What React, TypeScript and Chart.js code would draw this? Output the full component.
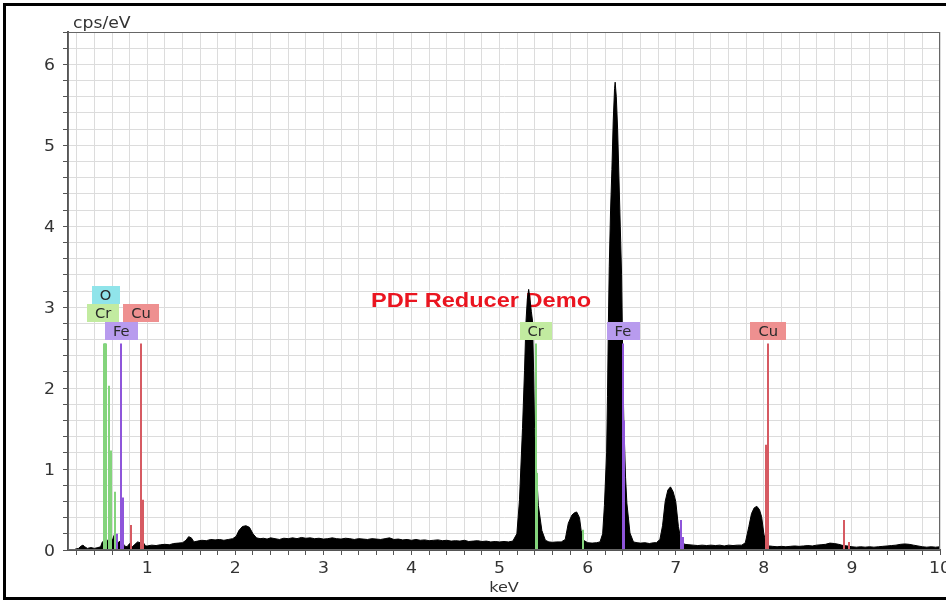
import { useEffect, useRef } from 'react';
import { Chart, registerables } from 'chart.js';

Chart.register(...registerables);

// ---- EDS spectrum trace, [energy keV, intensity cps/eV], by region ----
const lowEnergyTrace: [number, number][] = [
  [0.18, 0.01], [0.22, 0.02], [0.25, 0.05], [0.27, 0.06], [0.29, 0.04], [0.32, 0.02],
  [0.36, 0.03], [0.40, 0.02], [0.44, 0.03], [0.47, 0.04], [0.49, 0.1], [0.52, 0.12],
  [0.55, 0.12], [0.58, 0.1], [0.61, 0.14], [0.63, 0.2], [0.65, 0.08], [0.68, 0.1],
  [0.70, 0.12], [0.72, 0.1], [0.74, 0.05], [0.77, 0.04], [0.80, 0.08], [0.83, 0.04],
  [0.86, 0.07], [0.89, 0.1], [0.92, 0.09], [0.95, 0.1], [0.98, 0.05],
];

const continuumTrace: [number, number][] = [
  [1.0, 0.05], [1.05, 0.06], [1.1, 0.055], [1.15, 0.065], [1.2, 0.07], [1.25, 0.065],
  [1.3, 0.08], [1.35, 0.085], [1.4, 0.09], [1.44, 0.12], [1.47, 0.165], [1.5, 0.15],
  [1.53, 0.1], [1.57, 0.11], [1.62, 0.12], [1.67, 0.115], [1.72, 0.13], [1.77, 0.125],
  [1.82, 0.13], [1.87, 0.12], [1.92, 0.13], [1.97, 0.14], [2.01, 0.17], [2.04, 0.24],
  [2.08, 0.29], [2.12, 0.3], [2.16, 0.28], [2.2, 0.2], [2.24, 0.15], [2.28, 0.14],
  [2.32, 0.145], [2.36, 0.135], [2.4, 0.15], [2.45, 0.14], [2.5, 0.13], [2.55, 0.145],
  [2.6, 0.14], [2.65, 0.15], [2.7, 0.14], [2.75, 0.155], [2.8, 0.145], [2.85, 0.15],
  [2.9, 0.14], [2.95, 0.145], [3.0, 0.135], [3.05, 0.14], [3.1, 0.15], [3.15, 0.14],
  [3.2, 0.135], [3.25, 0.145], [3.3, 0.14], [3.35, 0.13], [3.4, 0.14], [3.45, 0.135],
  [3.5, 0.13], [3.55, 0.14], [3.6, 0.135], [3.65, 0.13], [3.7, 0.14], [3.75, 0.15],
  [3.8, 0.13], [3.85, 0.135], [3.9, 0.125], [3.95, 0.13], [4.0, 0.12], [4.05, 0.13],
  [4.1, 0.12], [4.15, 0.125], [4.2, 0.115], [4.25, 0.12], [4.3, 0.125], [4.35, 0.115],
  [4.4, 0.12], [4.45, 0.11], [4.5, 0.115], [4.55, 0.11], [4.6, 0.12], [4.65, 0.105],
  [4.7, 0.11], [4.75, 0.115], [4.8, 0.105], [4.85, 0.11], [4.9, 0.1], [4.95, 0.105],
  [5.0, 0.1], [5.05, 0.105], [5.1, 0.1],
];

const crKalphaTrace: [number, number][] = [
  [5.15, 0.11], [5.196, 0.2], [5.226, 0.62], [5.26, 1.5], [5.283, 2.22], [5.3, 2.83],
  [5.315, 3.1], [5.33, 3.22], [5.345, 3.1], [5.36, 2.95], [5.374, 2.83], [5.386, 2.22],
  [5.397, 1.5], [5.42, 0.96], [5.44, 0.55], [5.48, 0.24], [5.52, 0.12],
  [5.56, 0.1], [5.6, 0.095], [5.65, 0.1], [5.7, 0.1],
];

const crKbetaTrace: [number, number][] = [
  [5.745, 0.13], [5.78, 0.33], [5.82, 0.43], [5.85, 0.46], [5.875, 0.47], [5.907, 0.4],
  [5.926, 0.24], [5.953, 0.12], [6.0, 0.09], [6.05, 0.085], [6.1, 0.09],
];

const feKalphaTrace: [number, number][] = [
  [6.14, 0.1], [6.17, 0.2], [6.19, 0.55], [6.215, 1.2], [6.225, 1.9], [6.235, 2.8],
  [6.245, 3.5], [6.26, 4.2], [6.275, 4.7], [6.29, 5.3], [6.305, 5.7], [6.312, 5.78],
  [6.325, 5.6], [6.34, 5.2], [6.355, 4.6], [6.37, 4.0], [6.385, 3.4], [6.4, 2.2],
  [6.41, 1.6], [6.43, 0.9], [6.445, 0.58], [6.48, 0.21], [6.52, 0.1],
  [6.56, 0.09], [6.6, 0.085], [6.65, 0.09], [6.7, 0.08], [6.75, 0.09],
];

const feKbetaTrace: [number, number][] = [
  [6.78, 0.09], [6.82, 0.13], [6.85, 0.3], [6.88, 0.6], [6.91, 0.74], [6.94, 0.78],
  [6.97, 0.72], [7.0, 0.6], [7.03, 0.29], [7.06, 0.12], [7.1, 0.07],
  [7.15, 0.065], [7.2, 0.06], [7.25, 0.055], [7.3, 0.06], [7.35, 0.055], [7.4, 0.06],
  [7.45, 0.055], [7.5, 0.06], [7.55, 0.05], [7.6, 0.06], [7.65, 0.055], [7.7, 0.06],
];

const cuKalphaTrace: [number, number][] = [
  [7.75, 0.06], [7.79, 0.09], [7.83, 0.29], [7.86, 0.45], [7.89, 0.52], [7.92, 0.54],
  [7.95, 0.5], [7.975, 0.41], [8.0, 0.2], [8.03, 0.06],
];

const highEnergyTrace: [number, number][] = [
  [8.06, 0.05], [8.1, 0.045], [8.15, 0.04], [8.2, 0.045], [8.25, 0.04], [8.3, 0.045],
  [8.35, 0.05], [8.4, 0.045], [8.45, 0.05], [8.5, 0.055], [8.55, 0.05], [8.6, 0.06],
  [8.65, 0.065], [8.7, 0.07], [8.75, 0.085], [8.8, 0.08], [8.85, 0.07], [8.9, 0.055],
  [8.95, 0.05], [9.0, 0.04], [9.05, 0.035], [9.1, 0.04], [9.15, 0.035], [9.2, 0.04],
  [9.25, 0.035], [9.3, 0.04], [9.35, 0.045], [9.4, 0.05], [9.45, 0.055], [9.5, 0.06],
  [9.55, 0.07], [9.6, 0.075], [9.65, 0.07], [9.7, 0.06], [9.75, 0.05], [9.8, 0.04],
  [9.85, 0.035], [9.9, 0.04], [9.95, 0.035], [10.0, 0.04],
];

// ---- Characteristic line markers, [energy keV, marker height cps/eV] ----
const oMarkers: [number, number][] = [[0.525, 2.55]];
const crMarkers: [number, number][] = [
  [0.505, 2.55], [0.52, 2.55], [0.535, 2.55], [0.56, 2.03], [0.585, 1.23], [0.63, 0.72],
  [5.41, 2.55], [5.43, 0.95], [5.946, 0.25],
];
const feMarkers: [number, number][] = [
  [0.655, 0.2], [0.705, 2.55], [0.72, 0.65], [6.4, 2.55], [6.415, 1.6], [7.06, 0.37], [7.08, 0.16],
];
const cuMarkers: [number, number][] = [
  [0.81, 0.31], [0.93, 2.55], [0.955, 0.62], [8.03, 1.3], [8.05, 2.55], [8.905, 0.37], [8.97, 0.1],
];

// ---- Element tags: symbol, energy keV, stacking row above the marker tops ----
const tagElements = ['O', 'Cr', 'Cu', 'Fe', 'Cr', 'Fe', 'Cu'];
const tagEnergies = [0.525, 0.5, 0.93, 0.705, 5.41, 6.4, 8.05];
const tagRows = [2, 1, 1, 0, 0, 0, 0];
const TAG_BASE_CPS = 2.55;

// ---- Axis labels ----
const keVTickLabels = [1, 2, 3, 4, 5, 6, 7, 8, 9, 10];
const cpsTickLabels = [0, 1, 2, 3, 4, 5, 6];
const yAxisTitle = 'cps/eV';
const xAxisTitle = 'keV';
const watermarkText = 'PDF Reducer Demo';

const ELEMENT_COLORS: Record<string, { line: string; tag: string }> = {
  O: { line: '#72d9e0', tag: '#90e4ea' },
  Cr: { line: '#84d47c', tag: '#c2eba0' },
  Fe: { line: '#8e55da', tag: '#b89bee' },
  Cu: { line: '#d65a62', tag: '#ee9090' },
};

const markerGroups: { el: string; lines: [number, number][] }[] = [
  { el: 'O', lines: oMarkers },
  { el: 'Cr', lines: crMarkers },
  { el: 'Fe', lines: feMarkers },
  { el: 'Cu', lines: cuMarkers },
];

const spectrum = [
  ...lowEnergyTrace, ...continuumTrace, ...crKalphaTrace, ...crKbetaTrace,
  ...feKalphaTrace, ...feKbetaTrace, ...cuKalphaTrace, ...highEnergyTrace,
].map(([x, y]) => ({ x, y }));

const TEXT_STRETCH = 1.15;
const TEXT_COLOR = '#333';

function stretchedText(
  ctx: CanvasRenderingContext2D,
  text: string,
  x: number,
  y: number,
  align: CanvasTextAlign,
  stretch = TEXT_STRETCH,
) {
  ctx.save();
  ctx.translate(x, y);
  ctx.scale(stretch, 1);
  ctx.textAlign = align;
  ctx.textBaseline = 'alphabetic';
  ctx.fillText(text, 0, 0);
  ctx.restore();
}

const spectrumDecor = {
  id: 'spectrumDecor',
  beforeDatasetsDraw(chart: any) {
    const { ctx } = chart;
    ctx.save();
    ctx.font = 'bold 20.5px "Liberation Sans", Arial, sans-serif';
    ctx.fillStyle = '#ea1520';
    stretchedText(ctx, watermarkText, 481, 307, 'center');
    ctx.restore();
  },
  afterDatasetsDraw(chart: any) {
    const { ctx, chartArea: a } = chart;
    const xs = chart.scales.x;
    const ys = chart.scales.y;

    // element line markers
    ctx.save();
    ctx.beginPath();
    ctx.rect(a.left, a.top, a.right - a.left, a.bottom - a.top);
    ctx.clip();
    ctx.lineWidth = 2;
    const base = ys.getPixelForValue(0);
    for (const g of markerGroups) {
      ctx.strokeStyle = ELEMENT_COLORS[g.el].line;
      for (const [e, c] of g.lines) {
        const px = Math.round(xs.getPixelForValue(e));
        ctx.beginPath();
        ctx.moveTo(px, base);
        ctx.lineTo(px, ys.getPixelForValue(c));
        ctx.stroke();
      }
    }
    ctx.restore();

    // element tags
    ctx.save();
    ctx.font = '14px "DejaVu Sans", Verdana, sans-serif';
    const anchor = ys.getPixelForValue(TAG_BASE_CPS);
    const h = 18;
    tagElements.forEach((el, i) => {
      const w = ctx.measureText(el).width * 1.05 + 16;
      const cx = xs.getPixelForValue(tagEnergies[i]);
      const bottom = anchor - 4 - tagRows[i] * h;
      ctx.fillStyle = ELEMENT_COLORS[el].tag;
      ctx.fillRect(Math.round(cx - w / 2), Math.round(bottom - h), Math.round(w), h);
      ctx.fillStyle = '#2a2a2a';
      stretchedText(ctx, el, cx, bottom - 4, 'center', 1.05);
    });
    ctx.restore();
  },
  afterDraw(chart: any) {
    const { ctx, chartArea: a } = chart;
    const xs = chart.scales.x;
    const ys = chart.scales.y;
    ctx.save();
    // plot frame
    ctx.strokeStyle = '#666';
    ctx.lineWidth = 1;
    ctx.strokeRect(a.left + 0.5, a.top + 0.5, a.right - a.left - 1, a.bottom - a.top - 1);

    ctx.fillStyle = TEXT_COLOR;
    ctx.font = '15px "DejaVu Sans", Verdana, sans-serif';
    for (const v of keVTickLabels) {
      stretchedText(ctx, String(v), xs.getPixelForValue(v), a.bottom + 23, 'center');
    }
    for (const v of cpsTickLabels) {
      stretchedText(ctx, String(v), a.left - 13, ys.getPixelForValue(v) + 5.5, 'right');
    }
    stretchedText(ctx, yAxisTitle, a.left + 5, a.top - 4, 'left');
    ctx.font = '14px "DejaVu Sans", Verdana, sans-serif';
    stretchedText(ctx, xAxisTitle, (a.left + a.right) / 2, 592, 'center');
    ctx.restore();
  },
};

export default function App() {
  const canvasRef = useRef<HTMLCanvasElement>(null);

  useEffect(() => {
    const canvas = canvasRef.current;
    if (!canvas) return;
    const chart = new Chart(canvas, {
      type: 'line',
      data: {
        datasets: [
          {
            data: spectrum,
            borderColor: '#000',
            backgroundColor: '#000',
            borderWidth: 1,
            fill: 'origin',
            pointRadius: 0,
            tension: 0,
          },
        ],
      },
      options: {
        responsive: false,
        animation: false,
        events: [],
        layout: { padding: { top: 32, right: 6, left: 0, bottom: 0 } },
        plugins: { legend: { display: false }, tooltip: { enabled: false } },
        scales: {
          x: {
            type: 'linear',
            min: 0.1,
            max: 10,
            ticks: { display: false, stepSize: 0.2, includeBounds: false },
            grid: { color: '#dcdcdc', lineWidth: 1, drawTicks: true, tickLength: 5, tickColor: '#555' },
            border: { display: true, color: '#555', width: 2 },
            afterFit(scale: any) {
              scale.height = 55;
              scale.paddingLeft = 0;
              scale.paddingRight = 0;
            },
          },
          y: {
            type: 'linear',
            min: 0,
            max: 6.4,
            ticks: { display: false, stepSize: 0.2 },
            grid: { color: '#dcdcdc', lineWidth: 1, drawTicks: true, tickLength: 5, tickColor: '#555' },
            border: { display: true, color: '#555', width: 2 },
            afterFit(scale: any) {
              scale.width = 68;
              scale.paddingTop = 0;
              scale.paddingBottom = 0;
            },
          },
        },
      },
      plugins: [spectrumDecor],
    } as any);
    return () => chart.destroy();
  }, []);

  return (
    <div
      style={{
        position: 'fixed',
        left: 0,
        top: 0,
        width: 946,
        height: 605,
        background: '#fff',
        overflow: 'hidden',
      }}
    >
      <canvas ref={canvasRef} width={946} height={605} style={{ position: 'absolute', left: 0, top: 0 }} />
      <div
        style={{
          position: 'absolute',
          left: 3,
          top: 3,
          width: 960,
          height: 597,
          border: '3px solid #000',
          boxSizing: 'border-box',
          pointerEvents: 'none',
        }}
      />
    </div>
  );
}
